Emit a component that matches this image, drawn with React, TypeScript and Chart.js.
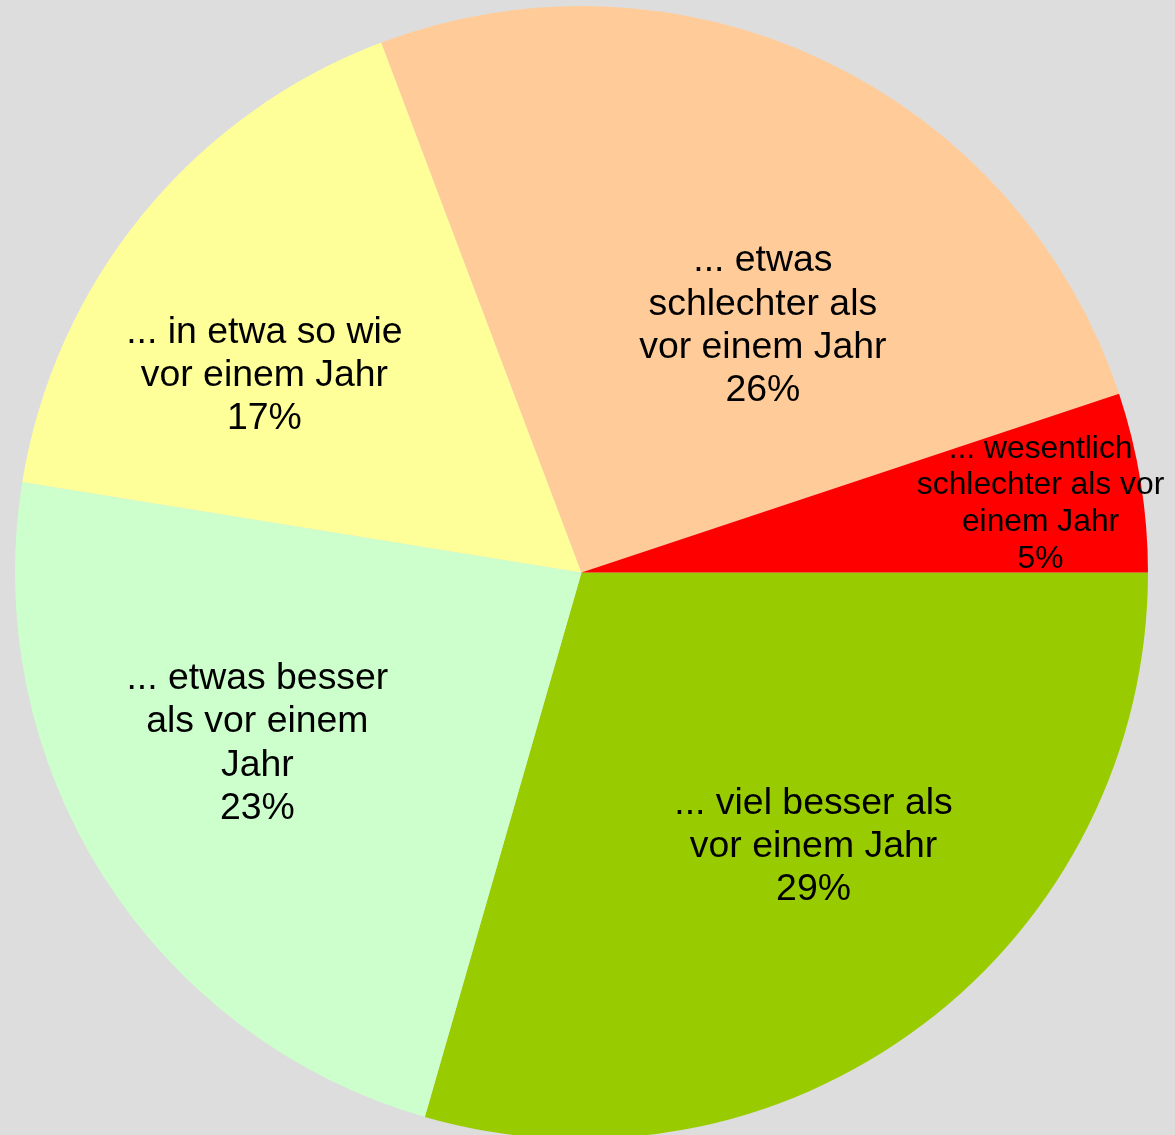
import React, { useEffect, useRef } from "react";
import { Chart, registerables } from "chart.js";

Chart.register(...registerables);

const categories = [
  "... viel besser als vor einem Jahr",
  "... etwas besser als vor einem Jahr",
  "... in etwa so wie vor einem Jahr",
  "... etwas schlechter als vor einem Jahr",
  "... wesentlich schlechter als vor einem Jahr",
];
const labelLines = [
  ["... viel besser als", "vor einem Jahr"],
  ["... etwas besser", "als vor einem", "Jahr"],
  ["... in etwa so wie", "vor einem Jahr"],
  ["... etwas", "schlechter als", "vor einem Jahr"],
  ["... wesentlich", "schlechter als vor", "einem Jahr"],
];
const shares = [29.46, 23.09, 16.7, 25.64, 5.11];
const colors = ["#99CC00", "#CCFFCC", "#FFFF99", "#FFCC99", "#FF0000"];

// label placement: angle tweak (deg) from slice bisector, radius fraction, font size
const labelAngleTweak = [-3.5, 4.9, -7.1, 10.6, 0.4];
const labelRadiusFrac = [0.631, 0.645, 0.661, 0.544, 0.82];
const labelFontSize = [37.4, 37.4, 37.4, 37.4, 31.8];
const labelBaselineNudge = 2.5;

const labelPlugin = {
  id: "sliceLabels",
  afterDatasetsDraw(chart: any) {
    const ctx = chart.ctx;
    const meta = chart.getDatasetMeta(0);
    const total = shares.reduce((a, b) => a + b, 0);
    meta.data.forEach((arc: any, i: number) => {
      const { x, y, startAngle, endAngle, outerRadius } = arc.getProps(
        ["x", "y", "startAngle", "endAngle", "outerRadius"],
        true
      );
      const mid = (startAngle + endAngle) / 2 + (labelAngleTweak[i] * Math.PI) / 180;
      const r = outerRadius * labelRadiusFrac[i];
      const cx = x + Math.cos(mid) * r;
      const cy = y + Math.sin(mid) * r + labelBaselineNudge;
      const fs = labelFontSize[i];
      const lh = fs * 1.155;
      const lines = [...labelLines[i], Math.round((shares[i] / total) * 100) + "%"];
      ctx.save();
      ctx.fillStyle = "#000000";
      ctx.font = `${fs}px "Liberation Sans", Arial, sans-serif`;
      ctx.textAlign = "center";
      ctx.textBaseline = "middle";
      lines.forEach((ln, k) => {
        ctx.fillText(ln, cx, cy + (k - (lines.length - 1) / 2) * lh);
      });
      ctx.restore();
    });
  },
};

export default function App() {
  const ref = useRef<HTMLCanvasElement | null>(null);
  useEffect(() => {
    if (!ref.current) return;
    const chart = new Chart(ref.current, {
      type: "pie",
      data: {
        labels: categories,
        datasets: [
          {
            data: shares,
            backgroundColor: colors,
            borderWidth: 0,
            hoverOffset: 0,
            offset: 0,
          },
        ],
      },
      options: {
        animation: false,
        responsive: false,
        rotation: 90,
        events: [],
        layout: { padding: { left: 15, right: 27, top: 6, bottom: 7 } },
        plugins: {
          legend: { display: false },
          tooltip: { enabled: false },
        },
      },
      plugins: [labelPlugin],
    });
    return () => chart.destroy();
  }, []);
  return (
    <div
      style={{
        position: "fixed",
        left: 0,
        top: 0,
        width: 1175,
        height: 1135,
        overflow: "hidden",
        background: "#DDDDDD",
      }}
    >
      <canvas ref={ref} width={1175} height={1146} style={{ display: "block" }} />
    </div>
  );
}
